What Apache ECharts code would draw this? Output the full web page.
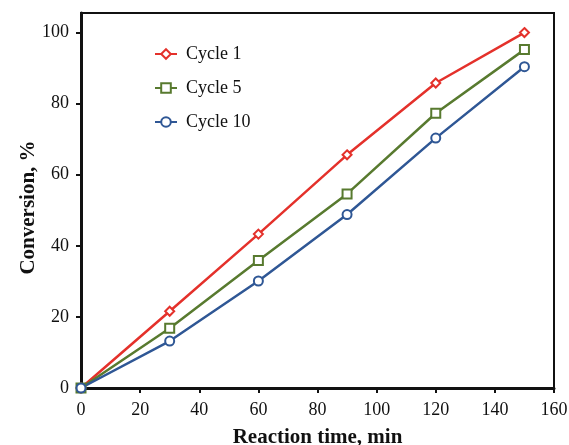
<!DOCTYPE html>
<html>
<head>
<meta charset="utf-8">
<script src="https://cdn.jsdelivr.net/npm/echarts@6/dist/echarts.min.js"></script>
<style>
  html, body { margin: 0; padding: 0; background: #fff; }
  #main { width: 569px; height: 445px; }
</style>
</head>
<body>
<div id="main"></div>
<script>
// reaction time (min)
var times = [0, 30, 60, 90, 120, 150];
var cycle1 = [0, 21.6, 43.3, 65.6, 85.8, 100];
var cycle5 = [0, 16.8, 35.9, 54.6, 77.3, 95.2];
var cycle10 = [0, 13.2, 30.1, 48.8, 70.3, 90.4];

function pairs(ys) {
  var out = [];
  for (var i = 0; i < times.length; i++) out.push([times[i], ys[i]]);
  return out;
}

var font = 'Liberation Serif';
var chart = echarts.init(document.getElementById('main'));

function mkSeries(name, data, color, symbol) {
  return {
    name: name,
    type: 'line',
    data: pairs(data),
    symbol: symbol,
    symbolSize: 9,
    showAllSymbol: true,
    lineStyle: { color: color, width: 2.5 },
    itemStyle: { color: color, borderColor: color, borderWidth: 2 },
    emphasis: { disabled: true },
    z: 3
  };
}

chart.setOption({
  animation: false,
  backgroundColor: '#fff',
  grid: {
    left: 81, right: 15, top: 13, bottom: 57,
    outerBoundsMode: 'none',
    containLabel: false,
    show: true, borderColor: '#111', borderWidth: 2
  },
  legend: {
    orient: 'vertical',
    left: 154, top: 45,
    padding: 0,
    itemGap: 16,
    itemWidth: 22, itemHeight: 12,
    textStyle: { fontFamily: font, fontSize: 18, color: '#111', padding: [0, 0, 0, 4] },
    data: ['Cycle 1', 'Cycle 5', 'Cycle 10']
  },
  xAxis: {
    type: 'value',
    min: 0, max: 160, interval: 20,
    name: 'Reaction time, min',
    nameLocation: 'middle',
    nameGap: 39,
    nameTextStyle: { fontFamily: font, fontSize: 21, fontWeight: 'bold', color: '#111' },
    axisLine: { onZero: false, lineStyle: { color: '#111', width: 3 } },
    axisTick: { show: true, inside: false, length: 5, lineStyle: { color: '#111', width: 2 } },
    axisLabel: { fontFamily: font, fontSize: 18, color: '#111', margin: 13 },
    splitLine: { show: false }
  },
  yAxis: {
    type: 'value',
    min: 0, max: 105.5, interval: 20,
    name: 'Conversion, %',
    nameLocation: 'middle',
    nameGap: 42,
    nameMoveOverlap: false,
    nameTextStyle: { fontFamily: font, fontSize: 21, fontWeight: 'bold', color: '#111', padding: [0, 14, 0, 0] },
    axisLine: { show: true, onZero: false, lineStyle: { color: '#111', width: 3 } },
    axisTick: { show: true, inside: false, length: 5, lineStyle: { color: '#111', width: 2 } },
    axisLabel: { fontFamily: font, fontSize: 18, color: '#111', margin: 12, showMaxLabel: false },
    splitLine: { show: false }
  },
  series: [
    mkSeries('Cycle 1', cycle1, '#e4312b', 'emptyDiamond'),
    mkSeries('Cycle 5', cycle5, '#587a2f', 'emptyRect'),
    mkSeries('Cycle 10', cycle10, '#2f5795', 'emptyCircle')
  ]
});
</script>
</body>
</html>
